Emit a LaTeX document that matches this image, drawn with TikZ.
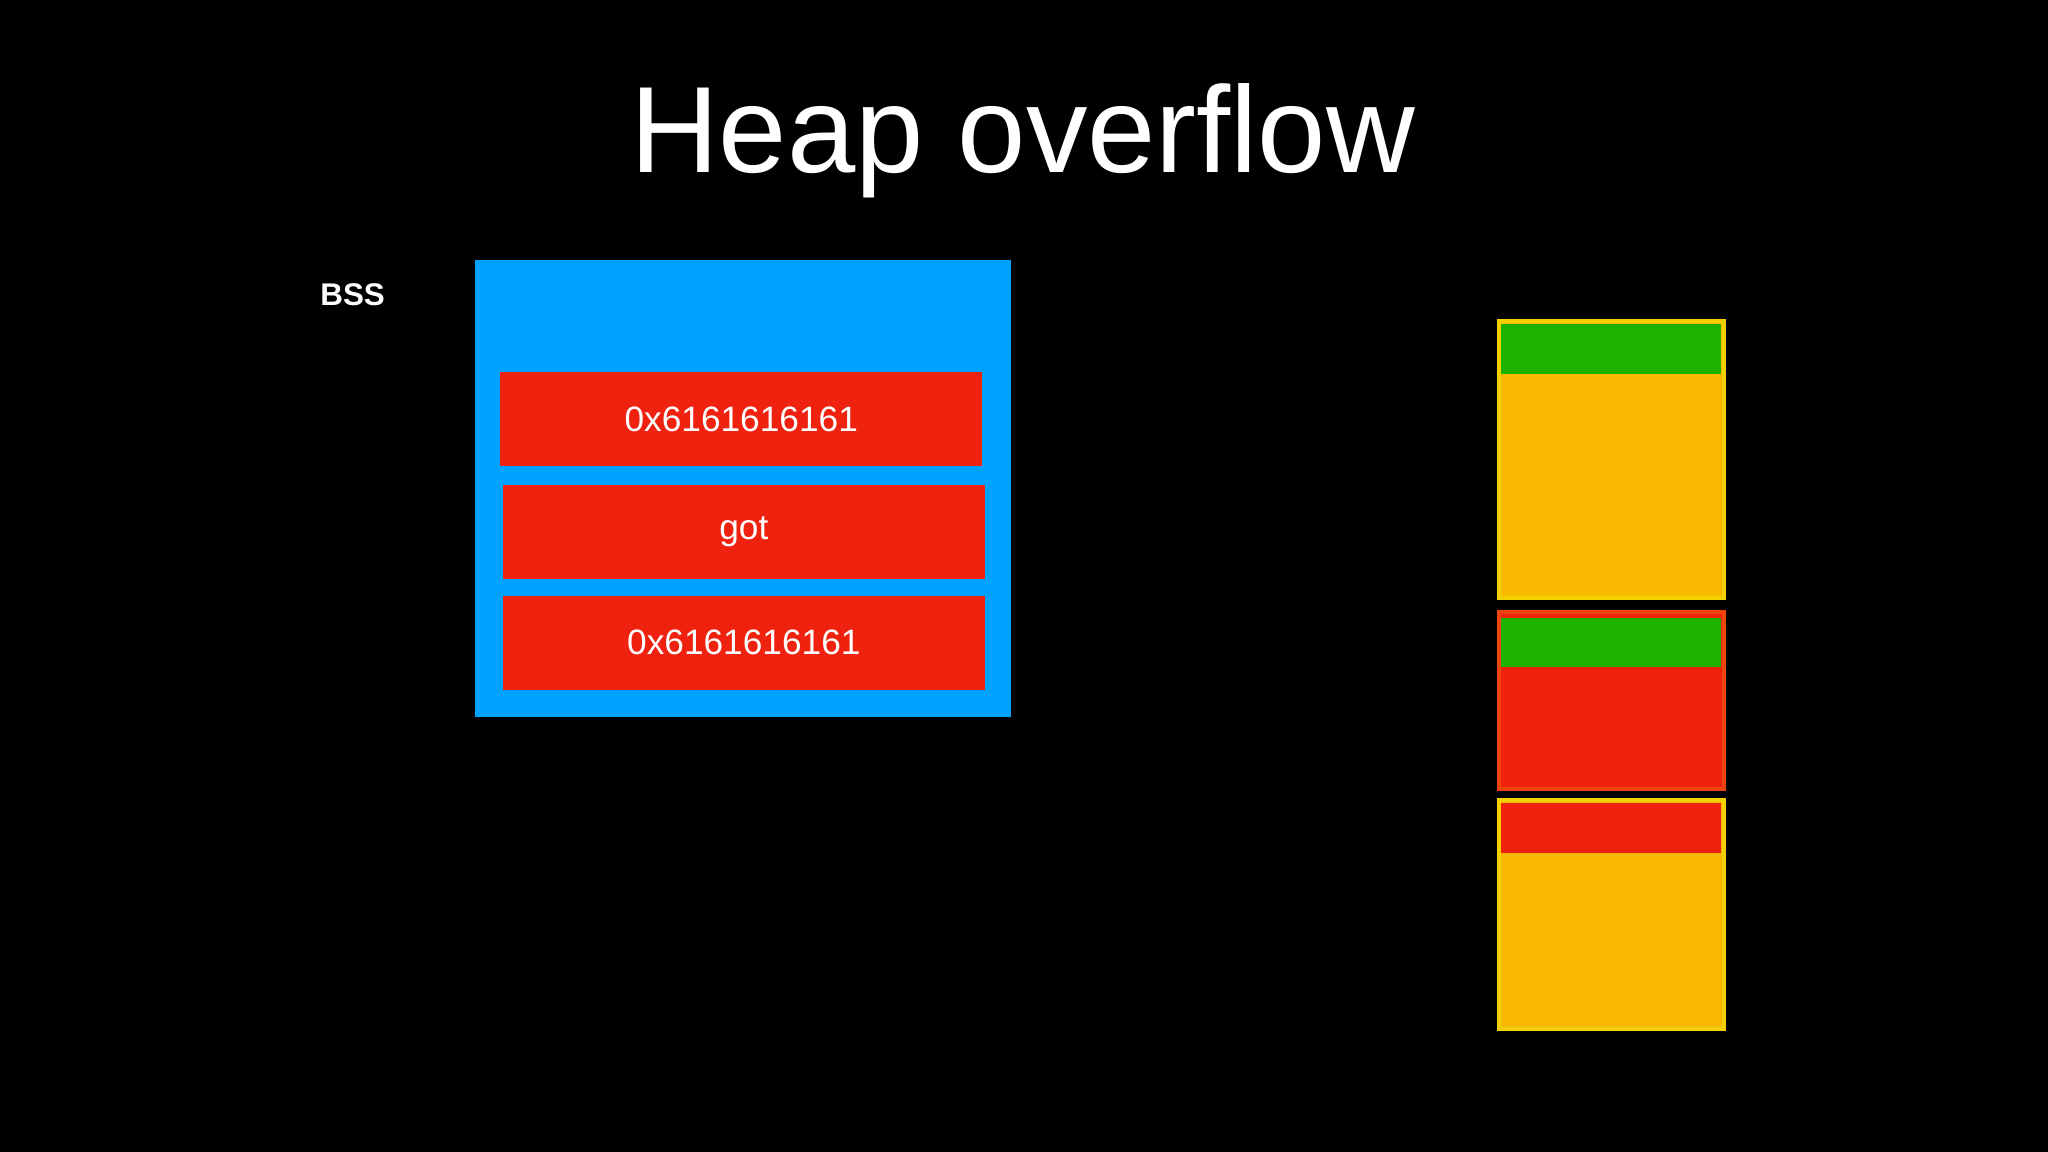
\documentclass[tikz,border=0pt]{standalone}
\usepackage{fontspec}
\setmainfont{Liberation Sans}
\definecolor{bg}{HTML}{000000}
\definecolor{blu}{HTML}{00A2FF}
\definecolor{rd}{HTML}{EE220F}
\definecolor{org}{HTML}{F9B900}
\definecolor{grn}{HTML}{1DB100}
\definecolor{yel}{HTML}{F5D000}
\tikzset{
  box/.style={anchor=north west,inner sep=0pt,outer sep=0pt},
  lbl/.style={text=white,font=\fontsize{13.5}{16}\selectfont}
}
\newcommand{\bx}[6]{\fill[#6] (#2,#3) rectangle (#4,#5); \coordinate (#1) at ($(#2,#3)!0.5!(#4,#5)$);}
\usetikzlibrary{calc}
\begin{document}
\begin{tikzpicture}[x=0.5pt,y=-0.5pt]
\fill[bg] (0,0) rectangle (1568,882);
\useasboundingbox (0,0) rectangle (1568,882);
\node[text=white,font=\fontsize{47}{52}\selectfont,anchor=base] (title) at (783,132) {Heap overflow};
\node[text=white,font=\bfseries\fontsize{12}{14}\selectfont] (bss) at (270,226) {BSS};
\bx{bssbox}{364}{199}{774}{549}{blu}
\bx{r1}{383}{285}{752}{357}{rd}
\bx{r2}{385}{371}{754}{443}{rd}
\bx{r3}{385}{456}{754}{528}{rd}
\node[lbl] (t1) at (r1) {0x6161616161};
\node[lbl] (t2) at (r2) {got};
\node[lbl] (t3) at (r3) {0x6161616161};
% heap chunks
\filldraw[fill=org,draw=yel,line width=1.5pt] (1147.5,245.5) rectangle (1320,458);
\bx{g1}{1149}{248}{1318}{286}{grn}
\filldraw[fill=rd,draw=rd!80!yel,line width=1.5pt] (1147.5,468.5) rectangle (1320,604);
\bx{g2}{1149}{473}{1318}{511}{grn}
\filldraw[fill=org,draw=yel,line width=1.5pt] (1147.5,612.5) rectangle (1320,788);
\bx{g3}{1149}{615}{1318}{653}{rd}
\end{tikzpicture}
\end{document}
